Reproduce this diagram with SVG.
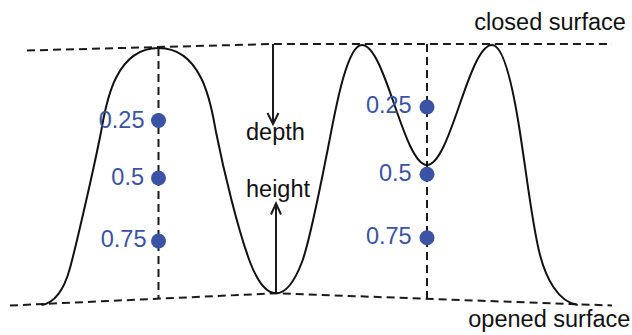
<svg xmlns="http://www.w3.org/2000/svg" width="632" height="335" viewBox="0 0 632 335">
<style>
.dash{fill:none;stroke:#1a1a1a;stroke-width:2;stroke-dasharray:8 5}
.curve{fill:none;stroke:#111;stroke-width:2;stroke-linejoin:round}
.arr{fill:none;stroke:#1a1a1a;stroke-width:2}
.dot{fill:#3a53a4}
.lbl{font-family:"Liberation Sans",Arial,sans-serif;font-size:23.5px;fill:#111}
.val{font-family:"Liberation Sans",Arial,sans-serif;font-size:23.5px;fill:#3c52a3;text-anchor:end}
</style>
<rect width="632" height="335" fill="#fff"/>
<g id="surfaces">
<polyline class="dash" points="27,50.5 273,44 612,44"/>
<polyline class="dash" points="10,305.5 276,293.3 612,305.5"/>
<line class="dash" x1="158.5" y1="48" x2="158.5" y2="298.7"/>
<line class="dash" x1="427" y1="44" x2="427" y2="298.8"/>
</g>
<g id="profile">
<path class="curve" d="M41.5,305 C54,303 64,290 70,268 C76,246 94,168 101,132 C105,112 112,48 158.5,48 C205,48 212,112 216,132 C224,172 238,230 250,262 C258,283 266,293.3 276,293.3 C286,293.3 294,283 302,262 C310,241 322,178 328,148 C334,118 346,45 362,45 C373.5,45 383.9,74.3 394.5,105 C405.1,135.7 415.5,165 427,165 C438.5,165 448.9,135.7 459.5,105 C470.1,74.3 480.5,45 492,45 C504,45 513,90 518,120 C526,168 532,225 540,255 C546,278 558,302 577.7,305"/>
</g>
<g id="connectors">
<line class="arr" x1="273" y1="44" x2="273" y2="124"/>
<polyline class="arr" points="267.5,113 273,124 278.5,113"/>
<line class="arr" x1="276" y1="293.3" x2="276" y2="203.5"/>
<polyline class="arr" points="271,214.5 276,203.5 281,214.5"/>
</g>
<g id="left-points">
<circle class="dot" cx="158.5" cy="120.5" r="7.5"/>
<circle class="dot" cx="158.5" cy="178" r="7.5"/>
<circle class="dot" cx="158.5" cy="241" r="7.5"/>
<text class="val" x="144.5" y="128.3">0.25</text>
<text class="val" x="144" y="185">0.5</text>
<text class="val" x="146.5" y="246.7">0.75</text>
</g>
<g id="right-points">
<circle class="dot" cx="427" cy="107" r="7.5"/>
<circle class="dot" cx="427" cy="174.3" r="7.5"/>
<circle class="dot" cx="427" cy="237.7" r="7.5"/>
<text class="val" x="411.7" y="113.3">0.25</text>
<text class="val" x="411.7" y="180.7">0.5</text>
<text class="val" x="411.7" y="244">0.75</text>
</g>
<g id="labels">
<text class="lbl" x="246" y="140">depth</text>
<text class="lbl" x="246" y="196.7">height</text>
<text class="lbl" x="474.3" y="30">closed surface</text>
<text class="lbl" x="468.3" y="326.7">opened surface</text>
</g>
</svg>
